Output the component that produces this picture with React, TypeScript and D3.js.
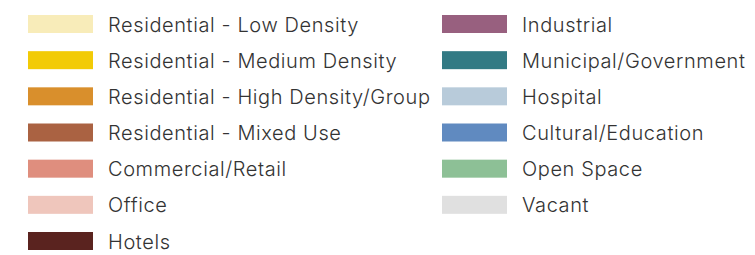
import React, { useEffect, useRef } from "react";
import * as d3 from "d3";

const leftLabels = [
  "Residential - Low Density",
  "Residential - Medium Density",
  "Residential - High Density/Group",
  "Residential - Mixed Use",
  "Commercial/Retail",
  "Office",
  "Hotels",
];
const leftColors = ["#f8ecb9", "#f2cb06", "#d98f2c", "#aa6242", "#df8e7e", "#efc6bc", "#5a231f"];

const rightLabels = [
  "Industrial",
  "Municipal/Government",
  "Hospital",
  "Cultural/Education",
  "Open Space",
  "Vacant",
];
const rightColors = ["#98607f", "#327a84", "#b8cbda", "#608ac0", "#8dc096", "#e0e0e0"];

const W = 755;
const H = 255;

function App() {
  const ref = useRef<SVGSVGElement>(null);

  useEffect(() => {
    drawLegend();
  }, []);

  function drawLegend() {
    const svg = d3.select(ref.current);
    svg.selectAll("*").remove();

    // row index -> top of swatch
    const y = d3.scaleLinear().domain([0, 6]).range([15, 232]);

    const columns = [
      { x: 28, labels: leftLabels, colors: leftColors },
      { x: 442, labels: rightLabels, colors: rightColors },
    ];

    columns.forEach((col) => {
      const rows = svg
        .append("g")
        .selectAll("g")
        .data(col.labels)
        .join("g")
        .attr("transform", (d, i) => `translate(${col.x},${y(i)})`);

      rows
        .append("rect")
        .attr("width", 65)
        .attr("height", 18)
        .attr("fill", (d, i) => col.colors[i]);

      rows
        .append("text")
        .attr("x", 80)
        .attr("y", 16.5)
        .attr("fill", "#333333")
        .style("font-family", "Inter, 'Noto Sans', sans-serif")
        .style("font-size", "20px")
        .style("font-weight", 300)
        .style("letter-spacing", "0.6px")
        .text((d) => d);
    });
  }

  return (
    <svg
      ref={ref}
      width={W}
      height={H}
      style={{ position: "absolute", left: 0, top: 0, background: "#fff" }}
    />
  );
}

export default App;
